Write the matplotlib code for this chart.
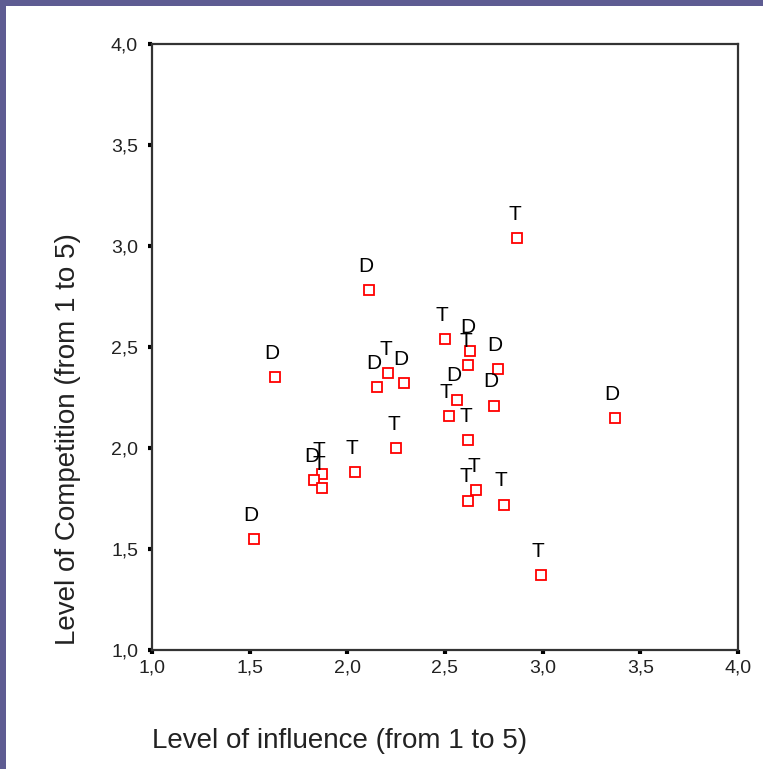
import matplotlib
matplotlib.use("Agg")
import matplotlib.pyplot as plt
from matplotlib.patches import Rectangle

# influence (x), competition (y), group label
influence = [1.52, 1.63, 2.11, 2.15, 2.21, 2.29, 2.25, 2.04, 1.87, 1.83,
             1.87, 2.50, 2.63, 2.62, 2.77, 2.56, 2.52, 2.75, 2.62, 2.66,
             2.62, 2.80, 2.99, 3.37, 2.87]
competition = [1.55, 2.35, 2.78, 2.30, 2.37, 2.32, 2.00, 1.88, 1.87, 1.84,
               1.80, 2.54, 2.48, 2.41, 2.39, 2.24, 2.16, 2.21, 2.04, 1.79,
               1.74, 1.72, 1.37, 2.15, 3.04]
group = ['D', 'D', 'D', 'D', 'T', 'D', 'T', 'T', 'T', 'D',
         'T', 'T', 'D', 'T', 'D', 'D', 'T', 'D', 'T', 'T',
         'T', 'T', 'T', 'D', 'T']

ticks = [1.0, 1.5, 2.0, 2.5, 3.0, 3.5, 4.0]
tick_labels = ['1,0', '1,5', '2,0', '2,5', '3,0', '3,5', '4,0']

plt.rcParams['font.family'] = ['Liberation Sans', 'DejaVu Sans']

W, H = 763, 769
fig = plt.figure(figsize=(W / 100, H / 100), dpi=100, facecolor='white')
# purple slide strips at left and top
border = '#5e5c92'
fig.patches.append(Rectangle((0, 0), 6 / W, 1, transform=fig.transFigure,
                             facecolor=border, edgecolor='none'))
fig.patches.append(Rectangle((0, 1 - 6 / H), 1, 6 / H, transform=fig.transFigure,
                             facecolor=border, edgecolor='none'))

ax = fig.add_axes([152 / W, 1 - 650 / H, (738 - 152) / W, (650 - 44) / H])
ax.set_facecolor('white')

ax.plot(influence, competition, linestyle='none', marker='s', markersize=6.5,
        markerfacecolor='white', markeredgecolor='#ff0000', markeredgewidth=1.3)
for x, y, g in zip(influence, competition, group):
    ax.annotate(g, (x, y), xytext=(-2, 17), textcoords='offset points',
                ha='center', va='center', fontsize=15, color='black')

ax.set_xlim(1, 4)
ax.set_ylim(1, 4)
ax.set_xticks(ticks)
ax.set_xticklabels(tick_labels)
ax.set_yticks(ticks)
ax.set_yticklabels(tick_labels)
ax.tick_params(direction='out', length=3, width=3, labelsize=14,
               color='black', labelcolor='#222222')
ax.tick_params(axis='x', pad=4)
ax.tick_params(axis='y', pad=7)

for s in ax.spines.values():
    s.set_linewidth(1.6)
    s.set_color('#333333')

fig.text(340 / W, 1 - 741 / H, 'Level of influence (from 1 to 5)',
         ha='center', va='center', fontsize=20, color='#222222')
fig.text(68 / W, 1 - 439 / H, 'Level of Competition (from 1 to 5)',
         ha='center', va='center', rotation=90, fontsize=20, color='#222222')

fig.savefig('out.png', dpi=100)
